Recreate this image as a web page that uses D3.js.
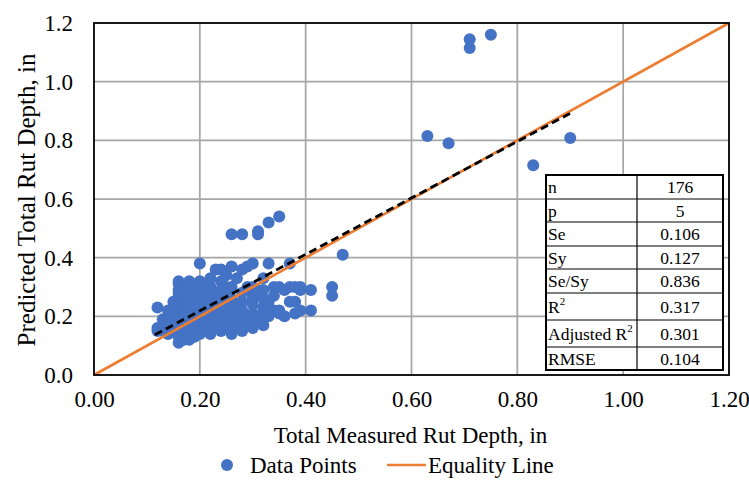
<!DOCTYPE html>
<html><head><meta charset="utf-8">
<script src="https://cdn.jsdelivr.net/npm/d3@7"></script>
<style>body{margin:0;background:#fff}svg{display:block}</style>
</head><body>
<svg id="c" width="749" height="484"></svg>
<script>
// measured x value -> predicted y values
const measuredCols = [0.12,0.13,0.14,0.15,0.16,0.17,0.18,0.19,0.20,0.21,0.22,0.23,0.24,0.25,0.26,0.27,0.28,0.29,0.30,0.31,0.32,0.33,0.34,0.35,0.36,0.37,0.38,0.39,0.41,0.45,0.47];
const predictedCols = [
 [0.15,0.23,0.16],
 [0.15,0.19],
 [0.14,0.18,0.22,0.20],
 [0.16,0.21,0.25],
 [0.11,0.13,0.15,0.17,0.19,0.21,0.23,0.25,0.27,0.29,0.31,0.32,0.20,0.24,0.28],
 [0.12,0.14,0.16,0.18,0.22,0.26,0.30,0.20,0.24,0.28],
 [0.12,0.13,0.15,0.17,0.19,0.21,0.23,0.25,0.27,0.29,0.31,0.32,0.22,0.26],
 [0.16,0.20,0.24,0.28,0.30,0.13,0.18,0.26],
 [0.14,0.17,0.19,0.22,0.24,0.27,0.30,0.38,0.32],
 [0.15,0.18,0.23,0.27,0.31],
 [0.14,0.16,0.19,0.21,0.24,0.26,0.30,0.33,0.17],
 [0.20,0.28,0.36,0.16,0.24],
 [0.15,0.18,0.22,0.25,0.29,0.32,0.36,0.19],
 [0.17,0.21,0.27,0.34,0.30,0.23],
 [0.14,0.16,0.19,0.23,0.26,0.30,0.37,0.48,0.21],
 [0.18,0.24,0.33],
 [0.15,0.17,0.20,0.25,0.28,0.36,0.48,0.22],
 [0.19,0.30,0.37],
 [0.16,0.18,0.21,0.24,0.27,0.30,0.38,0.26],
 [0.20,0.48,0.49,0.29],
 [0.17,0.21,0.23,0.26,0.29,0.33],
 [0.20,0.38,0.52,0.25],
 [0.22,0.27,0.30],
 [0.21,0.22,0.30,0.54],
 [0.20,0.29],
 [0.30,0.38,0.25],
 [0.21,0.25,0.30],
 [0.22,0.29,0.30],
 [0.22,0.29],
 [0.27,0.30],
 [0.41]
];
const outlierX = [0.63,0.67,0.71,0.71,0.75,0.83,0.90];
const outlierY = [0.815,0.79,1.145,1.115,1.16,0.715,0.808];
const trendX = [0.115,0.903];
const trendY = [0.137,0.895];
const equalityX = [0,1.2];
const equalityY = [0,1.2];
const xTicks = [0,0.2,0.4,0.6,0.8,1.0,1.2];
const yTicks = [0,0.2,0.4,0.6,0.8,1.0,1.2];
const statNames = ["n","p","Se","Sy","Se/Sy","R2","Adjusted R2","RMSE"];
const statValues = ["176","5","0.106","0.127","0.836","0.317","0.301","0.104"];

const points = [];
measuredCols.forEach((x,i)=>predictedCols[i].forEach(y=>points.push([x,y])));
outlierX.forEach((x,i)=>points.push([x,outlierY[i]]));

const svg = d3.select("#c");
const font = "'Liberation Serif','Times New Roman',serif";
const L=94,R=729,T=23,B=375;
const x = d3.scaleLinear().domain([0,1.2]).range([L,R]);
const y = d3.scaleLinear().domain([0,1.2]).range([B,T]);

// grid
const g = svg.append("g");
g.selectAll("line.v").data(xTicks.slice(1,-1)).join("line")
 .attr("x1",d=>x(d)).attr("x2",d=>x(d)).attr("y1",T).attr("y2",B)
 .attr("stroke","#a6a6a6").attr("stroke-width",1.75);
g.selectAll("line.h").data(yTicks.slice(1,-1)).join("line")
 .attr("y1",d=>y(d)).attr("y2",d=>y(d)).attr("x1",L).attr("x2",R)
 .attr("stroke","#a6a6a6").attr("stroke-width",1.75);

// axes labels
const xa = svg.append("g").attr("transform",`translate(0,${B})`)
 .call(d3.axisBottom(x).tickValues(xTicks).tickFormat(d3.format(".2f")).tickSize(0).tickPadding(16));
const ya = svg.append("g").attr("transform",`translate(${L},0)`)
 .call(d3.axisLeft(y).tickValues(yTicks).tickFormat(d3.format(".1f")).tickSize(0).tickPadding(21));
[xa,ya].forEach(a=>{a.select(".domain").remove();
 a.selectAll("text").attr("font-family",font).attr("font-size",23).attr("fill","#000");});

// points
svg.append("g").selectAll("circle").data(points).join("circle")
 .attr("cx",d=>x(d[0])).attr("cy",d=>y(d[1])).attr("r",6).attr("fill","#4472c4");

// lines
const line = d3.line().x(d=>x(d[0])).y(d=>y(d[1]));
svg.append("path").datum(equalityX.map((v,i)=>[v,equalityY[i]])).attr("d",line)
 .attr("stroke","#ed7d31").attr("stroke-width",2.6).attr("fill","none");
svg.append("path").datum(trendX.map((v,i)=>[v,trendY[i]])).attr("d",line)
 .attr("stroke","#000").attr("stroke-width",2.8).attr("stroke-dasharray","8,4.5").attr("fill","none");

// border
svg.append("rect").attr("x",L).attr("y",T).attr("width",R-L).attr("height",B-T)
 .attr("fill","none").attr("stroke","#000").attr("stroke-width",1.8);

// table
const tx0=546, tx1=637, tx2=723;
const rowB=[175,199,222,246,269,293,320,347,370];
const tb=svg.append("g");
tb.append("rect").attr("x",tx0).attr("y",rowB[0]).attr("width",tx2-tx0).attr("height",rowB[8]-rowB[0])
 .attr("fill","#fff").attr("stroke","#000").attr("stroke-width",2);
tb.selectAll("line.r").data(rowB.slice(1,-1)).join("line")
 .attr("x1",tx0).attr("x2",tx2).attr("y1",d=>d).attr("y2",d=>d).attr("stroke","#000").attr("stroke-width",1);
tb.append("line").attr("x1",tx1).attr("x2",tx1).attr("y1",rowB[0]).attr("y2",rowB[8]).attr("stroke","#000").attr("stroke-width",1.2);
statNames.forEach((nm,i)=>{
  const cy=(rowB[i]+rowB[i+1])/2+6;
  const t=tb.append("text").attr("x",tx0+2).attr("y",cy).attr("font-family",font).attr("font-size",17.5).attr("fill","#000");
  if(nm.endsWith("R2")){
    t.text(nm.slice(0,-1));
    t.append("tspan").attr("font-size",11).attr("dy",-8).text("2");
  } else t.text(nm);
  tb.append("text").attr("x",(tx1+tx2)/2).attr("y",cy).attr("text-anchor","middle")
   .attr("font-family",font).attr("font-size",17.5).attr("fill","#000").text(statValues[i]);
});

// axis titles
svg.append("text").attr("x",(L+R)/2-1).attr("y",443).attr("text-anchor","middle")
 .attr("font-family",font).attr("font-size",23).text("Total Measured Rut Depth, in");
svg.append("text").attr("transform","translate(35,200) rotate(-90)").attr("text-anchor","middle")
 .attr("font-family",font).attr("font-size",25).text("Predicted Total Rut Depth, in");

// legend
const lg=svg.append("g");
lg.append("circle").attr("cx",227).attr("cy",465).attr("r",6).attr("fill","#4472c4");
lg.append("text").attr("x",250).attr("y",473).attr("font-family",font).attr("font-size",23).text("Data Points");
lg.append("line").attr("x1",387).attr("x2",426).attr("y1",465).attr("y2",465).attr("stroke","#ed7d31").attr("stroke-width",2.6);
lg.append("text").attr("x",428).attr("y",473).attr("font-family",font).attr("font-size",23).text("Equality Line");
</script>
</body></html>
